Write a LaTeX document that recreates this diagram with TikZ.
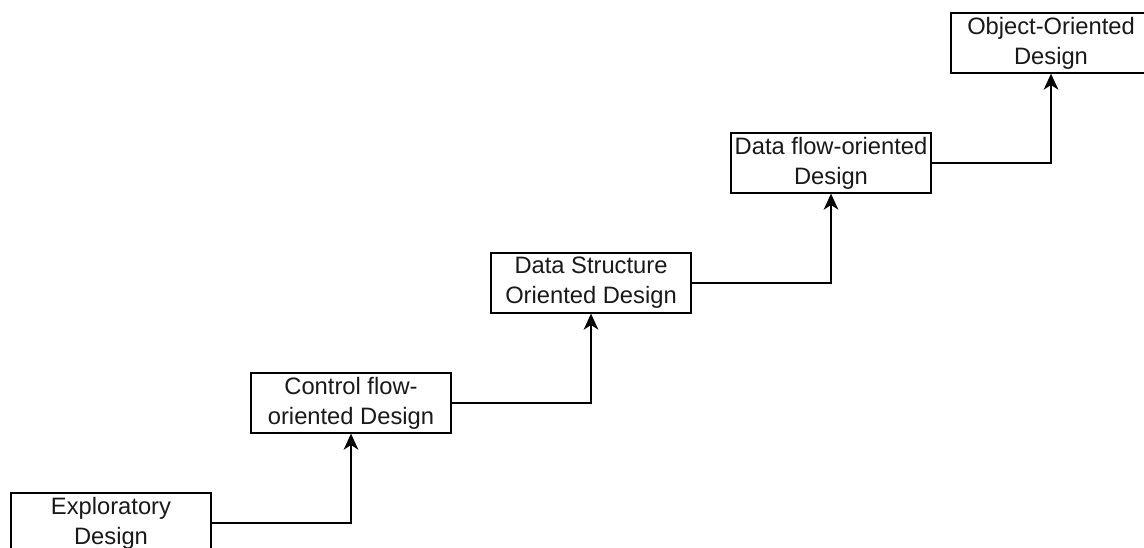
\documentclass[tikz,border=0pt]{standalone}
\usepackage{fontspec}
\setmainfont{Liberation Sans}
\usetikzlibrary{arrows.meta}
\begin{document}
\begin{tikzpicture}[x=0.75pt,y=-0.75pt,
  stage/.style={draw=black,line width=1pt,fill=white,rectangle,minimum width=150pt,minimum height=45pt,inner sep=1pt,align=center,font=\fontsize{17.8pt}{22.5pt}\selectfont,text=black!90},
  conn/.style={draw=black,line width=1.2pt,-{Stealth[length=12pt,width=11pt,inset=3.5pt]}}]
\useasboundingbox (0,0) rectangle (1144,548);
\node[stage] (e) at (111,523) {Exploratory\\Design};
\node[stage] (c) at (351,403) {Control flow-\\oriented Design};
\node[stage] (s) at (591,283) {Data Structure\\Oriented Design};
\node[stage] (d) at (831,163) {Data flow-oriented\\Design};
\node[stage] (o) at (1051,43) {Object-Oriented\\Design};
\draw[conn] (e.east) -| (c.south);
\draw[conn] (c.east) -| (s.south);
\draw[conn] (s.east) -| (d.south);
\draw[conn] (d.east) -| (o.south);
\end{tikzpicture}
\end{document}
